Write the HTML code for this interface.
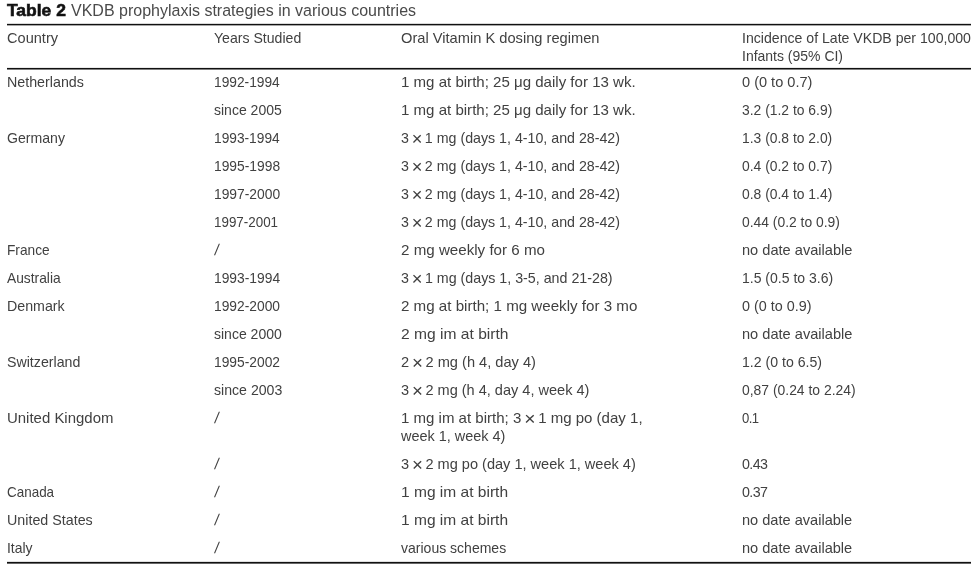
<!DOCTYPE html>
<html><head><meta charset="utf-8"><style>
html,body{margin:0;padding:0;background:#fff;}
body{width:974px;height:574px;position:relative;overflow:hidden;font-family:"Liberation Sans",Arial,sans-serif;color:#414141;}
.t{position:absolute;font-size:14.8px;line-height:18px;white-space:nowrap;transform-origin:0 0;}
.ti{position:absolute;font-size:16.8px;line-height:20px;white-space:nowrap;color:#4a4a4a;transform-origin:0 0;}
.ti b{color:#111;-webkit-text-stroke:0.6px #111;}
.x{font-size:19px;vertical-align:-2px;margin:0 2.5px 0 3px;}
.sl{transform:skewX(-9deg) scaleY(1.06);transform-origin:0 14px;color:#414141;}
.tv{display:inline-block;transform-origin:0 0;}
.hr{position:absolute;left:7px;width:964px;height:1px;background:#111;}
#w{position:absolute;left:0;top:0;width:974px;height:574px;will-change:transform;}
</style></head><body><div id="w">

<div class="ti" style="left:7px;top:1.18px;transform:scaleX(1.0398)"><b>Table 2</b></div>
<div class="ti" style="left:71px;top:1.18px;transform:scaleX(0.9535)">VKDB prophylaxis strategies in various countries</div>
<div class="hr" style="top:24px;box-shadow:0 -1px 0 rgba(0,0,0,.15),0 1px 0 rgba(0,0,0,.35)"></div>
<div class="hr" style="top:68px;box-shadow:0 -1px 0 rgba(0,0,0,.08),0 1px 0 rgba(0,0,0,.5)"></div>
<div class="hr" style="top:562px;box-shadow:0 -1px 0 rgba(0,0,0,.12),0 1px 0 rgba(0,0,0,.6)"></div>
<div class="t" style="left:7px;top:28.87px;transform:scaleX(0.9848)">Country</div>
<div class="t" style="left:214px;top:28.87px;transform:scaleX(0.9526)">Years Studied</div>
<div class="t" style="left:401px;top:28.87px;transform:scaleX(0.9905)">Oral Vitamin K dosing regimen</div>
<div class="t" style="left:741.5px;top:28.87px;transform:scaleX(0.9531)">Incidence of Late VKDB per 100,000</div>
<div class="t" style="left:741.5px;top:46.87px;transform:scaleX(0.9450)">Infants (95% CI)</div>
<div class="t" style="left:7px;top:72.87px;transform:scaleX(0.9637)">Netherlands</div>
<div class="t" style="left:214px;top:72.87px;transform:scaleX(0.9293)">1992-1994</div>
<div class="t" style="left:401px;top:72.87px;transform:scaleX(1.0176)">1 mg at birth; 25 μg daily for 13 wk.</div>
<div class="t" style="left:741.5px;top:72.87px;transform:scaleX(0.9833)">0 (0 to 0.7)</div>
<div class="t" style="left:214px;top:100.87px;transform:scaleX(0.9474)">since 2005</div>
<div class="t" style="left:401px;top:100.87px;transform:scaleX(1.0176)">1 mg at birth; 25 μg daily for 13 wk.</div>
<div class="t" style="left:741.5px;top:100.87px;transform:scaleX(0.9382)">3.2 (1.2 to 6.9)</div>
<div class="t" style="left:7px;top:128.87px;transform:scaleX(0.9528)">Germany</div>
<div class="t" style="left:214px;top:128.87px;transform:scaleX(0.9277)">1993-1994</div>
<div class="t" style="left:401px;top:128.87px;transform:scaleX(0.9605)">3<span class=x>×</span>1 mg (days 1, 4-10, and 28-42)</div>
<div class="t" style="left:741.5px;top:128.87px;transform:scaleX(0.9376)">1.3 (0.8 to 2.0)</div>
<div class="t" style="left:214px;top:156.87px;transform:scaleX(0.9339)">1995-1998</div>
<div class="t" style="left:401px;top:156.87px;transform:scaleX(0.9605)">3<span class=x>×</span>2 mg (days 1, 4-10, and 28-42)</div>
<div class="t" style="left:741.5px;top:156.87px;transform:scaleX(0.9382)">0.4 (0.2 to 0.7)</div>
<div class="t" style="left:214px;top:184.87px;transform:scaleX(0.9341)">1997-2000</div>
<div class="t" style="left:401px;top:184.87px;transform:scaleX(0.9605)">3<span class=x>×</span>2 mg (days 1, 4-10, and 28-42)</div>
<div class="t" style="left:741.5px;top:184.87px;transform:scaleX(0.9382)">0.8 (0.4 to 1.4)</div>
<div class="t" style="left:214px;top:212.87px;transform:scaleX(0.9048)">1997-2001</div>
<div class="t" style="left:401px;top:212.87px;transform:scaleX(0.9605)">3<span class=x>×</span>2 mg (days 1, 4-10, and 28-42)</div>
<div class="t" style="left:741.5px;top:212.87px;transform:scaleX(0.9371)">0.44 (0.2 to 0.9)</div>
<div class="t" style="left:7px;top:240.87px;transform:scaleX(0.9256)">France</div>
<div class="t sl" style="left:213.5px;top:241.37px">/</div>
<div class="t" style="left:401px;top:240.87px;transform:scaleX(1.0238)">2 mg weekly for 6 mo</div>
<div class="t" style="left:741.5px;top:240.87px;transform:scaleX(0.9867)">no date available</div>
<div class="t" style="left:7px;top:268.87px;transform:scaleX(0.9321)">Australia</div>
<div class="t" style="left:214px;top:268.87px;transform:scaleX(0.9336)">1993-1994</div>
<div class="t" style="left:401px;top:268.87px;transform:scaleX(0.9627)">3<span class=x>×</span>1 mg (days 1, 3-5, and 21-28)</div>
<div class="t" style="left:741.5px;top:268.87px;transform:scaleX(0.9468)">1.5 (0.5 to 3.6)</div>
<div class="t" style="left:7px;top:296.87px;transform:scaleX(0.9613)">Denmark</div>
<div class="t" style="left:214px;top:296.87px;transform:scaleX(0.9325)">1992-2000</div>
<div class="t" style="left:401px;top:296.87px;transform:scaleX(1.0226)">2 mg at birth; 1 mg weekly for 3 mo</div>
<div class="t" style="left:741.5px;top:296.87px;transform:scaleX(0.9705)">0 (0 to 0.9)</div>
<div class="t" style="left:214px;top:324.87px;transform:scaleX(0.9474)">since 2000</div>
<div class="t" style="left:401px;top:324.87px;transform:scaleX(1.0543)">2 mg im at birth</div>
<div class="t" style="left:741.5px;top:324.87px;transform:scaleX(0.9867)">no date available</div>
<div class="t" style="left:7px;top:352.87px;transform:scaleX(0.9591)">Switzerland</div>
<div class="t" style="left:214px;top:352.87px;transform:scaleX(0.9325)">1995-2002</div>
<div class="t" style="left:401px;top:352.87px;transform:scaleX(0.9870)">2<span class=x>×</span>2 mg (h 4, day 4)</div>
<div class="t" style="left:741.5px;top:352.87px;transform:scaleX(0.9541)">1.2 (0 to 6.5)</div>
<div class="t" style="left:214px;top:380.87px;transform:scaleX(0.9545)">since 2003</div>
<div class="t" style="left:401px;top:380.87px;transform:scaleX(0.9822)">3<span class=x>×</span>2 mg (h 4, day 4, week 4)</div>
<div class="t" style="left:741.5px;top:380.87px;transform:scaleX(0.9393)">0,87 (0.24 to 2.24)</div>
<div class="t" style="left:7px;top:408.87px;transform:scaleX(1.0108)">United Kingdom</div>
<div class="t sl" style="left:213.5px;top:409.37px">/</div>
<div class="t" style="left:401px;top:408.87px;transform:scaleX(1.0156)">1 mg im at birth; 3<span class=x>×</span>1 mg po (day 1,</div>
<div class="t" style="left:401px;top:426.87px;transform:scaleX(0.9758)">week 1, week 4)</div>
<div class="t" style="left:741.5px;top:408.87px;transform:scaleX(0.8849);letter-spacing:-0.6px">0.1</div>
<div class="t sl" style="left:213.5px;top:455.37px">/</div>
<div class="t" style="left:401px;top:454.87px;transform:scaleX(0.9836)">3<span class=x>×</span>2 mg po (day 1, week 1, week 4)</div>
<div class="t" style="left:741.5px;top:454.87px;transform:scaleX(0.9627);letter-spacing:-0.6px">0.43</div>
<div class="t" style="left:7px;top:482.87px;transform:scaleX(0.9083)">Canada</div>
<div class="t sl" style="left:213.5px;top:483.37px">/</div>
<div class="t" style="left:401px;top:482.87px;transform:scaleX(1.0500)">1 mg im at birth</div>
<div class="t" style="left:741.5px;top:482.87px;transform:scaleX(0.9627);letter-spacing:-0.6px">0.37</div>
<div class="t" style="left:7px;top:510.87px;transform:scaleX(0.9651)">United States</div>
<div class="t sl" style="left:213.5px;top:511.37px">/</div>
<div class="t" style="left:401px;top:510.87px;transform:scaleX(1.0500)">1 mg im at birth</div>
<div class="t" style="left:741.5px;top:510.87px;transform:scaleX(0.9849)">no date available</div>
<div class="t" style="left:7px;top:538.87px;transform:scaleX(0.9412)">Italy</div>
<div class="t sl" style="left:213.5px;top:539.37px">/</div>
<div class="t" style="left:401px;top:538.87px;transform:scaleX(0.9472)">various schemes</div>
<div class="t" style="left:741.5px;top:538.87px;transform:scaleX(0.9849)">no date available</div>
</div></body></html>
